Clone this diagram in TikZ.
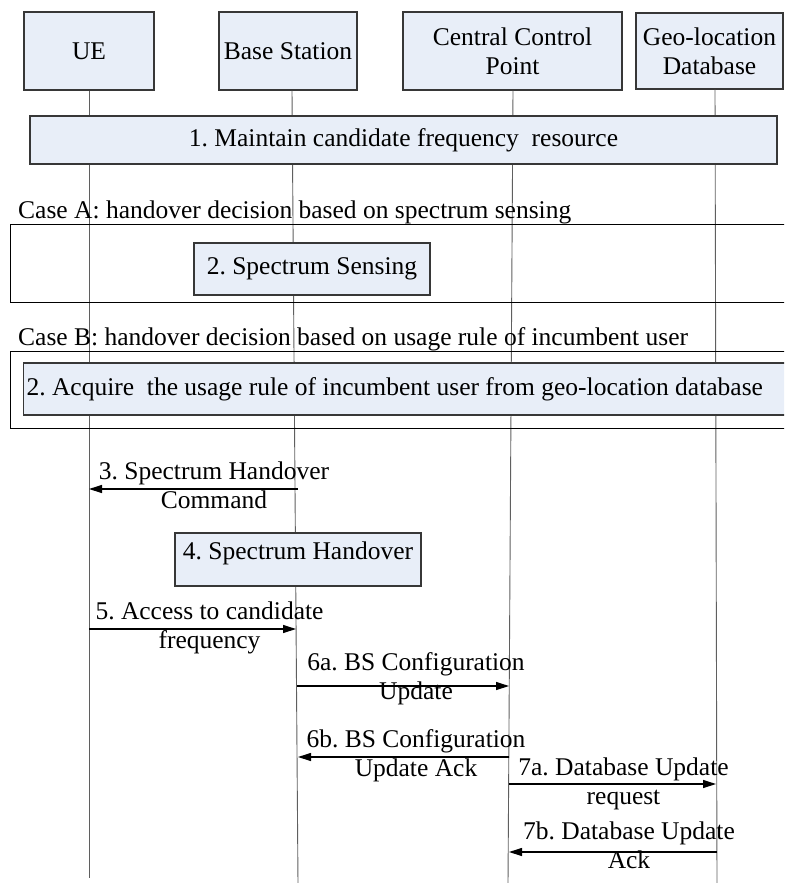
\documentclass[tikz,border=0pt]{standalone}
\usepackage{fontspec}
\setmainfont{Liberation Serif}
\usetikzlibrary{arrows.meta}
\definecolor{boxfill}{RGB}{232,238,248}
\definecolor{edge}{RGB}{55,55,55}
\definecolor{lifegray}{RGB}{95,95,95}

\begin{document}
\frenchspacing
\begin{tikzpicture}[x=1pt,y=-1pt,
  every node/.style={font=\fontsize{25.5}{29}\selectfont\frenchspacing, inner sep=0pt},
  actor/.style={draw=edge, line width=1.1pt, fill=boxfill, align=center},
  stepbox/.style={draw=edge, line width=1.1pt, fill=boxfill},
  casebox/.style={draw=black, line width=1.1pt},
  life/.style={draw=lifegray, line width=0.9pt},
  msg/.style={draw=black, line width=1.2pt, -{Triangle[length=13pt,width=8pt]}},
  lbl/.style={align=center, execute at begin node=\strut, execute at end node=\strut},
  caselbl/.style={anchor=base west}
]
\useasboundingbox (0,0) rectangle (784,883);
\clip (0,0) rectangle (784,883);

% participants
\node[actor, minimum width=130, minimum height=78] (ue)  at (89,51)    {UE};
\node[actor, minimum width=138, minimum height=78] (bs)  at (288,51)   {Base Station};
\node[actor, minimum width=219, minimum height=78] (ccp) at (512.5,51) {Central Control\\Point};
\node[actor, minimum width=147, minimum height=76] (geo) at (709.5,51) {Geo-location\\Database};

% lifelines
\coordinate (bsTop)  at (292,90);
\coordinate (ccpTop) at (513,90);
\coordinate (geoTop) at (715,90);
\coordinate (ueEnd)  at (89,878);
\coordinate (bsEnd)  at (298,884);
\coordinate (ccpEnd) at (508,884);
\coordinate (geoEnd) at (717,884);
\draw[life] (ue.south) -- (ueEnd);
\draw[life] (bs.south -| bsTop) -- (bsEnd);
\draw[life] (ccp.south -| ccpTop) -- (ccpEnd);
\draw[life] (geo.south -| geoTop) -- (geoEnd);

% step 1
\node[stepbox, minimum width=747, minimum height=48] (s1) at (403.5,140)
  {1. Maintain candidate frequency\ \ resource};

% case A
\node[caselbl] (caseAlbl) at (18,218.5) {Case A: handover decision based on spectrum sensing};
\node[casebox, anchor=north west, minimum width=790, minimum height=78] (caseA) at (10,224) {};
\node[stepbox, minimum width=236, minimum height=52] (s2a) at (312,269) {2. Spectrum Sensing};

% case B
\node[caselbl] (caseBlbl) at (18,345.5) {Case B: handover decision based on usage rule of incumbent user};
\node[casebox, anchor=north west, minimum width=790, minimum height=77] (caseB) at (10,351) {};
\node[stepbox, anchor=west, minimum height=52, text width=780, align=flush left, inner xsep=3pt] (s2b) at (23,389)
  {2. Acquire\ \ the usage rule of incumbent user from geo-location database};

% step 4
\node[stepbox, minimum width=246, minimum height=53, text height=18pt, text depth=18pt] (s4) at (298,559.5)
  {4. Spectrum Handover};

% message end points on the lifelines
\coordinate (m3a) at (298,489);  \coordinate (m3b) at (89,489);
\coordinate (m5a) at (89,629);   \coordinate (m5b) at (296,629);
\coordinate (m6a) at (297,686);  \coordinate (m6b) at (509,686);
\coordinate (m6c) at (509,757);  \coordinate (m6d) at (298,757);
\coordinate (m7a) at (509,784);  \coordinate (m7b) at (716,784);
\coordinate (m7c) at (717,852);  \coordinate (m7d) at (509,852);

\draw[msg] (m3a) -- (m3b);
\draw[msg] (m5a) -- (m5b);
\draw[msg] (m6a) -- (m6b);
\draw[msg] (m6c) -- (m6d);
\draw[msg] (m7a) -- (m7b);
\draw[msg] (m7c) -- (m7d);

% message labels
\node[lbl] (l3)  at (214,489)   {3. Spectrum Handover\\Command};
\node[lbl] (l5)  at (209.5,629) {5. Access to candidate\\frequency};
\node[lbl] (l6a) at (416,680)   {6a. BS Configuration\\Update};
\node[lbl] (l6b) at (416,757)   {6b. BS Configuration\\Update Ack};
\node[lbl] (l7a) at (623.5,785) {7a. Database Update\\request};
\node[lbl] (l7b) at (629,849)   {7b. Database Update\\Ack};
\end{tikzpicture}
\end{document}
